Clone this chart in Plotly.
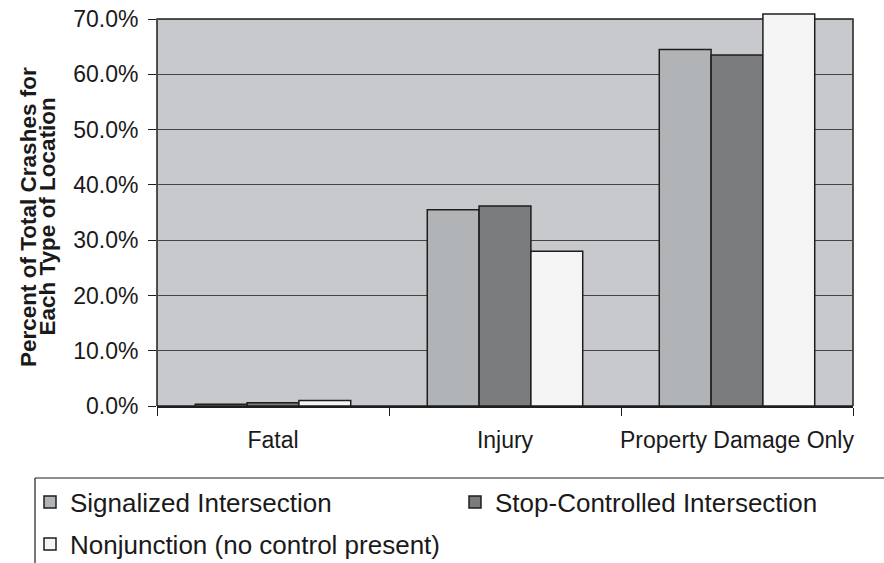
import plotly.graph_objects as go

categories = ["Fatal", "Injury", "Property Damage Only"]
signalized = [0.3, 35.5, 64.5]
stop_controlled = [0.6, 36.2, 63.5]
nonjunction = [1.0, 28.0, 70.9]
series_names = ["Signalized Intersection", "Stop-Controlled Intersection",
                "Nonjunction (no control present)"]
y_ticks = [0, 10, 20, 30, 40, 50, 60, 70]
y_tick_labels = ["0.0%", "10.0%", "20.0%", "30.0%", "40.0%", "50.0%", "60.0%", "70.0%"]
title_lines = ["Percent of Total Crashes for", "Each Type of Location"]

FONT = "Liberation Sans, Arial, Helvetica, sans-serif"
W, H = 884, 563
L, R, T, B = 157, 31, 8, 157
PW, PH = W - L - R, H - T - B


def px_x(px):
    return (px - L) / PW


def px_y(py):
    return (H - B - py) / PH


colors = ["#b1b4b6", "#7a7b7d", "#f5f5f5"]
legend_ids = ["legend", "legend2", "legend3"]
legend_pos = [(30, 502), (455, 502), (30, 544)]

fig = go.Figure()
for i, (name, vals) in enumerate(zip(series_names, [signalized, stop_controlled, nonjunction])):
    fig.add_trace(go.Bar(
        x=categories, y=vals, name=name,
        marker=dict(color=colors[i], line=dict(color="#1e1e1e", width=1.5)),
        legend=legend_ids[i], showlegend=True,
    ))

legends = {}
for lid, (lx, ly) in zip(legend_ids, legend_pos):
    legends[lid] = dict(
        orientation="h", x=px_x(lx), xanchor="left", y=px_y(ly), yanchor="middle",
        font=dict(size=26, family=FONT, color="#1a1a1a"),
        bgcolor="rgba(0,0,0,0)", borderwidth=0, visible=True,
    )

fig.update_layout(
    width=W, height=H,
    margin=dict(l=L, r=R, t=T, b=B, autoexpand=False),
    paper_bgcolor="white",
    plot_bgcolor="white",
    showlegend=True,
    barmode="group", bargap=0.33, bargroupgap=0,
    font=dict(family=FONT, color="#1a1a1a", size=22),
    xaxis=dict(
        showgrid=False, showline=True, linecolor="#1e1e1e", linewidth=1.5,
        ticks="outside", tickson="boundaries", ticklen=8, tickangle=0,
        tickcolor="#1e1e1e", tickwidth=1, tickfont=dict(size=23),
        ticklabelstandoff=13, automargin=False,
    ),
    yaxis=dict(
        range=[0, 72], tickvals=y_ticks, ticktext=y_tick_labels,
        showgrid=True, gridcolor="#444444", gridwidth=1,
        showline=False, ticks="outside", ticklen=8, tickcolor="#1e1e1e", tickwidth=1,
        tickfont=dict(size=23), ticklabelstandoff=5, zeroline=False, automargin=False,
    ),
    **legends,
)

# grey plotting area with its frame, ending at the 70% line
fig.add_shape(type="rect", xref="paper", yref="y", x0=0, x1=1, y0=0, y1=70,
              fillcolor="#c8c9cc", line=dict(color="#1e1e1e", width=1.5), layer="below")

# legend frame (top and left edges, running off the picture)
fig.add_shape(type="line", xref="paper", yref="paper",
              x0=px_x(35), x1=px_x(W + 20), y0=px_y(478), y1=px_y(478),
              line=dict(color="#1e1e1e", width=1.2))
fig.add_shape(type="line", xref="paper", yref="paper",
              x0=px_x(35), x1=px_x(35), y0=px_y(478), y1=px_y(H + 20),
              line=dict(color="#1e1e1e", width=1.2))

# y-axis title (two tightly spaced lines)
for line, cx in zip(title_lines, [28.0, 46.5]):
    fig.add_annotation(text="<b>" + line + "</b>", xref="paper", yref="paper",
                       x=px_x(cx), y=px_y(217), xanchor="center", yanchor="middle",
                       textangle=-90, showarrow=False,
                       font=dict(size=22.5, family=FONT, color="#1a1a1a"))

fig.write_html("out.html", config={"displayModeBar": False},
               post_script="document.body.style.margin='0';document.body.style.overflow='hidden';")
